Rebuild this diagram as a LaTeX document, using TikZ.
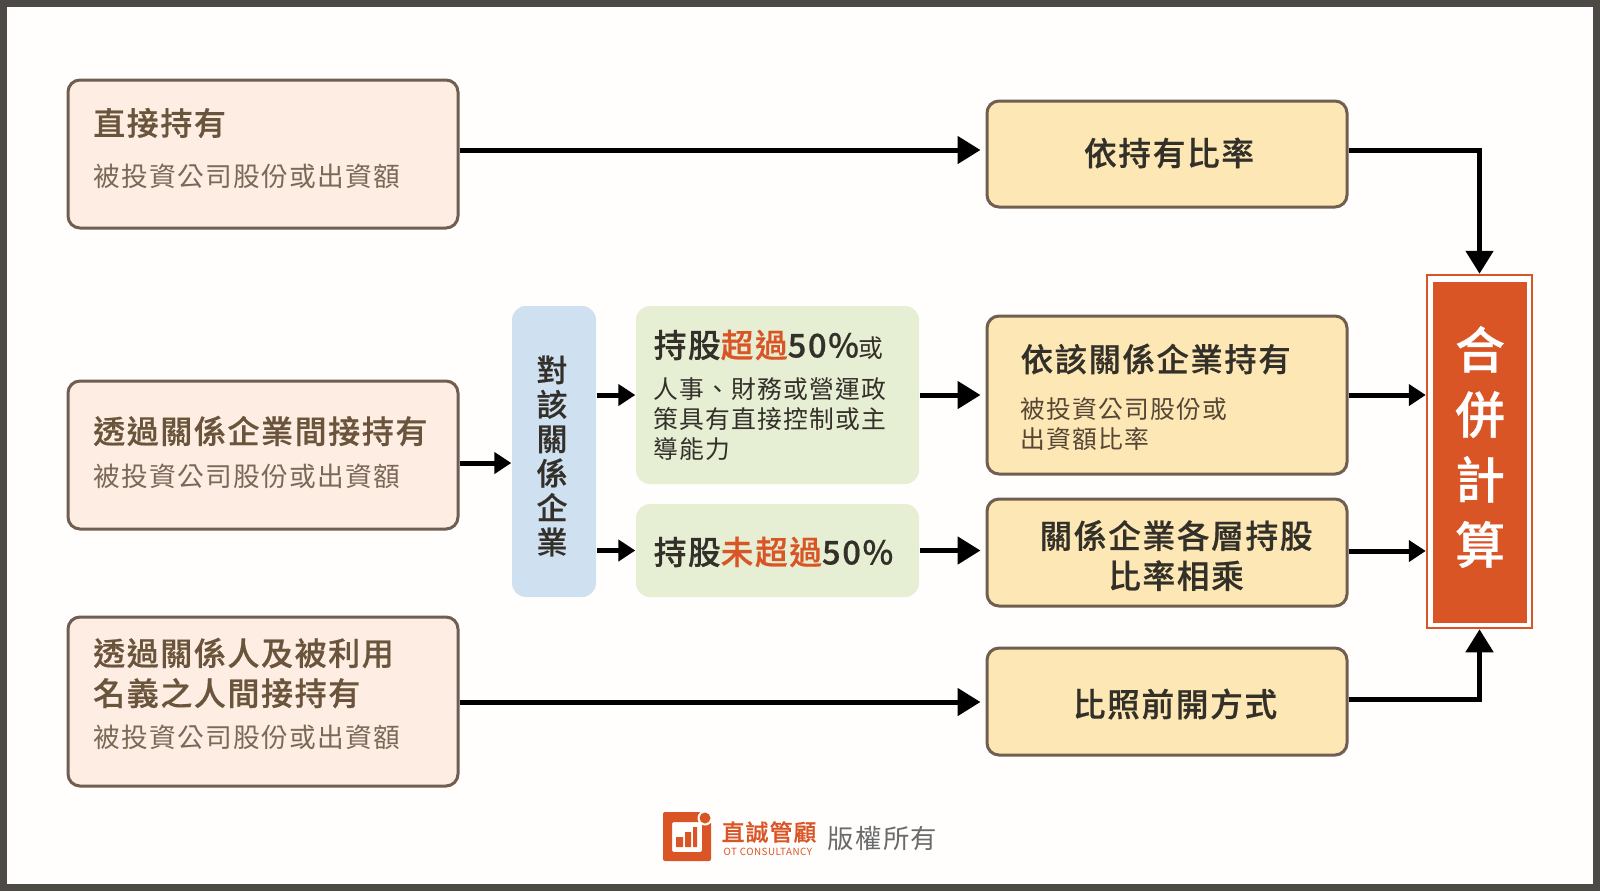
\documentclass[tikz,border=0pt]{standalone}
\usepackage{fontspec}
\usepackage{tikz}
\usetikzlibrary{arrows.meta,positioning,calc}
\setmainfont[LetterSpace=5,BoldFont={Noto Sans CJK TC Medium},BoldFeatures={FakeBold=.6}]{Noto Sans CJK TC}
\definecolor{otframe}{RGB}{77,74,69}
\definecolor{otpaper}{RGB}{255,254,253}
\definecolor{otbrown}{RGB}{107,84,60}
\definecolor{otbrownlt}{RGB}{122,104,88}
\definecolor{otedge}{RGB}{112,94,80}
\definecolor{otpeach}{RGB}{253,237,226}
\definecolor{otsand}{RGB}{253,232,181}
\definecolor{otblue}{RGB}{207,224,240}
\definecolor{otgreen}{RGB}{230,238,211}
\definecolor{otorange}{RGB}{217,85,37}
\definecolor{otink}{RGB}{51,48,42}
\definecolor{otgray}{RGB}{106,106,106}

\begin{document}
\begin{tikzpicture}[x=1cm,y=-1cm,
    peachbox/.style={draw=otedge, fill=otpeach, line width=.03cm,
                 rounded corners=.12cm, minimum width=3.9cm, inner sep=0pt},
    sandbox/.style={draw=otedge, fill=otsand, line width=.03cm,
                 rounded corners=.12cm, minimum width=3.6cm, inner sep=0pt},
    softbox/.style={rounded corners=.14cm, inner sep=0pt},
    headtext/.style={anchor=west, inner sep=0pt, align=left, text=otbrown,
                 font=\fontsize{9.1pt}{11.4pt}\selectfont\bfseries},
    subtext/.style={anchor=west, inner sep=0pt, text=otbrownlt,
                 font=\fontsize{7.6pt}{8.6pt}\selectfont},
    inktext/.style={inner sep=0pt, align=center, text=otink,
                 font=\fontsize{9.3pt}{11.4pt}\selectfont\bfseries},
    bodytext/.style={anchor=west, inner sep=0pt, align=left, text=otink,
                 font=\fontsize{7.05pt}{8.6pt}\selectfont},
    flow/.style={draw=black, line width=.05cm,
                 -{Triangle[length=.23cm,width=.27cm]}},
    shortflow/.style={draw=black, line width=.05cm,
                 -{Triangle[length=.17cm,width=.21cm]}},
]
\useasboundingbox (0,0) rectangle (16,8.91);
\draw[draw=otframe, fill=otpaper, line width=.07cm] (.035,.035) rectangle (15.965,8.875);

% left column
\node[peachbox, minimum height=1.48cm] (direct) at (2.63,1.54) {};
\node[headtext] (directT) at (.925,1.23) {直接持有};
\node[subtext] (directS) at (.925,1.76) {被投資公司股份或出資額};

\node[peachbox, minimum height=1.48cm] (related) at (2.63,4.55) {};
\node[headtext] (relatedT) at (.925,4.31) {透過關係企業間接持有};
\node[subtext] (relatedS) at (.925,4.76) {被投資公司股份或出資額};

\node[peachbox, minimum height=1.69cm] (nominee) at (2.63,7.015) {};
\node[headtext] (nomineeT) at (.925,6.73) {透過關係人及被利用\\名義之人間接持有};
\node[subtext] (nomineeS) at (.925,7.37) {被投資公司股份或出資額};

% middle column
\node[softbox, fill=otblue, minimum width=.84cm, minimum height=2.91cm] (target) at (5.54,4.515) {};
\node[inktext, font=\fontsize{8.8pt}{9.8pt}\selectfont\bfseries] (targetT) at (5.52,4.56)
    {對\\該\\關\\係\\企\\業};

\node[softbox, fill=otgreen, minimum width=2.83cm, minimum height=1.78cm] (over) at (7.775,3.95) {};
\node[headtext, text=otink, font=\fontsize{9.3pt}{11.4pt}\selectfont\bfseries] (overT) at (6.53,3.45)
    {持股\textcolor{otorange}{超過}50\%{\fontsize{7.05pt}{8pt}\selectfont\mdseries 或}};
\node[bodytext] (overS) at (6.53,4.19)
    {人事、財務或營運政\\策具有直接控制或主\\導能力};

\node[softbox, fill=otgreen, minimum width=2.83cm, minimum height=.93cm] (under) at (7.775,5.505) {};
\node[headtext, text=otink, font=\fontsize{9.3pt}{11.4pt}\selectfont\bfseries] (underT) at (6.53,5.52)
    {持股\textcolor{otorange}{未超過}50\%};

% right column
\node[sandbox, minimum height=1.06cm] (ratio) at (11.67,1.54) {};
\node[inktext] (ratioT) at (11.69,1.53) {依持有比率};

\node[sandbox, minimum height=1.58cm] (indirect) at (11.67,3.95) {};
\node[headtext, text=otink, font=\fontsize{9.2pt}{11.4pt}\selectfont\bfseries] (indirectT) at (10.2,3.59) {依該關係企業持有};
\node[bodytext, text=otbrown!60!otink] (indirectS) at (10.2,4.24) {被投資公司股份或\\出資額比率};

\node[sandbox, minimum height=1.07cm] (layers) at (11.67,5.525) {};
\node[inktext] (layersT) at (11.76,5.555) {關係企業各層持股\\比率相乘};

\node[sandbox, minimum height=1.07cm] (compare) at (11.67,7.015) {};
\node[inktext] (compareT) at (11.75,7.04) {比照前開方式};

% result
\node[draw=otorange, fill=white, line width=.025cm, minimum width=1.05cm,
      minimum height=3.53cm, inner sep=0pt] (resultF) at (14.795,4.515) {};
\node[fill=otorange, minimum width=.94cm, minimum height=3.41cm, inner sep=0pt] (result) at (14.8,4.525) {};
\node[inner sep=0pt, align=center, text=white,
      font=\fontsize{14.2pt}{18.5pt}\selectfont\bfseries] (resultT) at (14.8,4.47)
    {合\\併\\計\\算};

% connectors
\draw[flow, shorten >=.05cm] ([yshift=.04cm]direct.east) -- ([yshift=.04cm]ratio.west);
\draw[shortflow] ([yshift=-.08cm]related.east) -- ([yshift=-.115cm]target.west);
\draw[shortflow] (target.east |- over.east) -- (over.west);
\draw[shortflow] (target.east |- under.east) -- (under.west);
\draw[flow, shorten >=.05cm] (over.east) -- (over.east -| indirect.west);
\draw[flow, shorten >=.05cm] (under.east) -- (under.east -| layers.west);
\draw[flow, shorten >=.05cm] ([yshift=-.005cm]nominee.east) -- ([yshift=-.005cm]compare.west);
\draw[flow] ([yshift=.04cm]ratio.east) -| (resultF.north);
\draw[shortflow] (indirect.east) -- (indirect.east -| resultF.west);
\draw[shortflow] ([yshift=.015cm]layers.east) -- ([yshift=.015cm]layers.east -| resultF.west);
\draw[flow] ([yshift=.02cm]compare.east) -| (resultF.south);

% logo
\fill[otorange, rounded corners=.02cm, even odd rule]
    (6.63,8.12) rectangle (7.11,8.61)
    (6.72,8.22) rectangle (7.02,8.52);
\fill[otpaper] (7.00,8.10) rectangle (7.13,8.23);
\fill[otpaper] (7.05,8.18) circle (.075);
\fill[otorange] (7.05,8.18) circle (.055);
\fill[otorange] (6.76,8.37) rectangle (6.83,8.47)
                (6.85,8.32) rectangle (6.91,8.47)
                (6.93,8.27) rectangle (6.97,8.47);
\node[anchor=west, inner sep=0pt, text=otorange, font=\fontsize{6.5pt}{8pt}\selectfont\bfseries] (logoA) at (7.21,8.32) {直誠管顧};
\node[anchor=west, inner sep=0pt, text=otorange, font=\fontsize{2.8pt}{4pt}\selectfont] (logoB) at (7.23,8.52) {OT CONSULTANCY};
\node[anchor=west, inner sep=0pt, text=otgray, font=\fontsize{7.5pt}{9pt}\selectfont] (logoC) at (8.27,8.385) {版權所有};
\end{tikzpicture}
\end{document}
